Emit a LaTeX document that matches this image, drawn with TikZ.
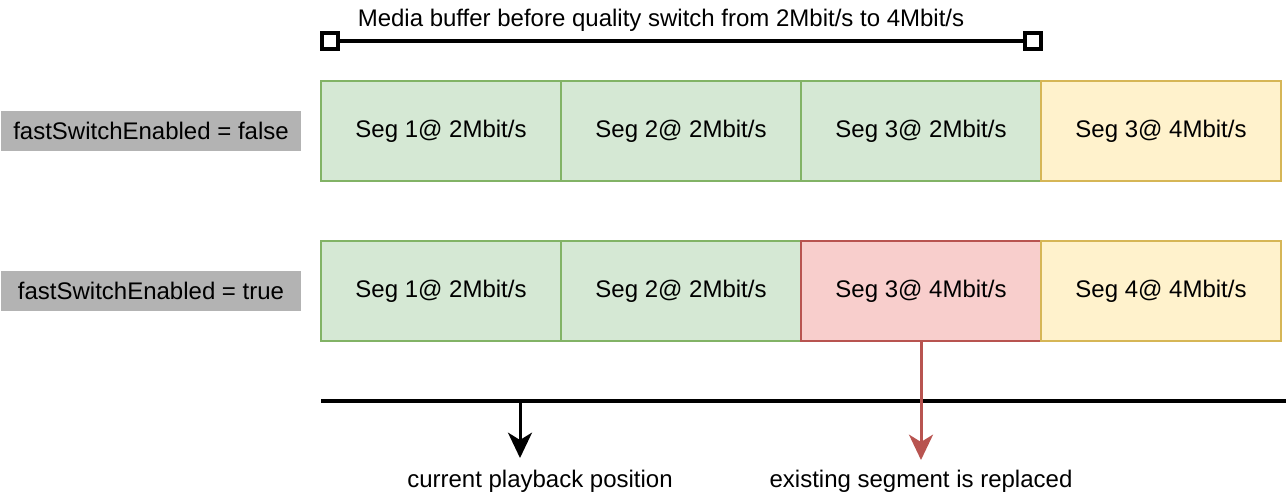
\documentclass[tikz,border=0pt]{standalone}
\usepackage{fontspec}
\setmainfont{Liberation Sans}
\usetikzlibrary{arrows.meta}
\definecolor{gfill}{HTML}{D5E8D4}
\definecolor{gline}{HTML}{82B366}
\definecolor{yfill}{HTML}{FFF2CC}
\definecolor{yline}{HTML}{D6B656}
\definecolor{rfill}{HTML}{F8CECC}
\definecolor{rline}{HTML}{B85450}
\definecolor{labgray}{HTML}{B3B3B3}
\begin{document}
\begin{tikzpicture}[x=0.75pt,y=-0.75pt,
  txt/.style={font=\fontsize{18}{22}\selectfont, inner sep=0pt},
  seg/.style={txt, draw, line width=1.5pt, minimum width=180pt, minimum height=75pt},
  greenseg/.style={seg, fill=gfill, draw=gline},
  yellowseg/.style={seg, fill=yfill, draw=yline},
  redseg/.style={seg, fill=rfill, draw=rline},
  lab/.style={txt, fill=labgray, minimum width=225pt, minimum height=30pt},
  endsq/.style={draw, fill=white, line width=3pt, minimum size=11.5pt, inner sep=0pt},
  pointer/.style={line width=2.25pt, -{Stealth[length=19pt, width=18pt, inset=5.5pt]}}
]
\useasboundingbox (0,0) rectangle (1286,502);

% top buffer bracket
\node[txt] (title) at (661,20) {Media buffer before quality switch from 2Mbit/s to 4Mbit/s};
\node[endsq] (sqL) at (330,41) {};
\node[endsq] (sqR) at (1033,41) {};
\draw[line width=3pt] (sqL.east) -- (sqR.west);

% row 1
\node[lab] (lab1) at (151,131) {fastSwitchEnabled = false};
\node[greenseg] (a1) at (441,131) {Seg 1@ 2Mbit/s};
\node[greenseg] (a2) at (681,131) {Seg 2@ 2Mbit/s};
\node[greenseg] (a3) at (921,131) {Seg 3@ 2Mbit/s};
\node[yellowseg] (a4) at (1161,131) {Seg 3@ 4Mbit/s};

% row 2
\node[lab] (lab2) at (151,291) {fastSwitchEnabled = true};
\node[greenseg] (b1) at (441,291) {Seg 1@ 2Mbit/s};
\node[greenseg] (b2) at (681,291) {Seg 2@ 2Mbit/s};
\node[redseg] (b3) at (921,291) {Seg 3@ 4Mbit/s};
\node[yellowseg] (b4) at (1161,291) {Seg 4@ 4Mbit/s};

% timeline
\coordinate (tl0) at (321,401);
\coordinate (tl1) at (1286,401);
\draw[line width=3pt] (tl0) -- (tl1);

\coordinate (play) at (520,401);
\coordinate (playtip) at (520,458);
\draw[pointer] (play) -- (playtip);
\node[txt] (playlab) at (540,481) {current playback position};

\coordinate (reptip) at (921,460);
\draw[pointer, draw=rline, fill=rline] (b3.south) -- (reptip);
\node[txt] (replab) at (921,481) {existing segment is replaced};
\end{tikzpicture}
\end{document}
